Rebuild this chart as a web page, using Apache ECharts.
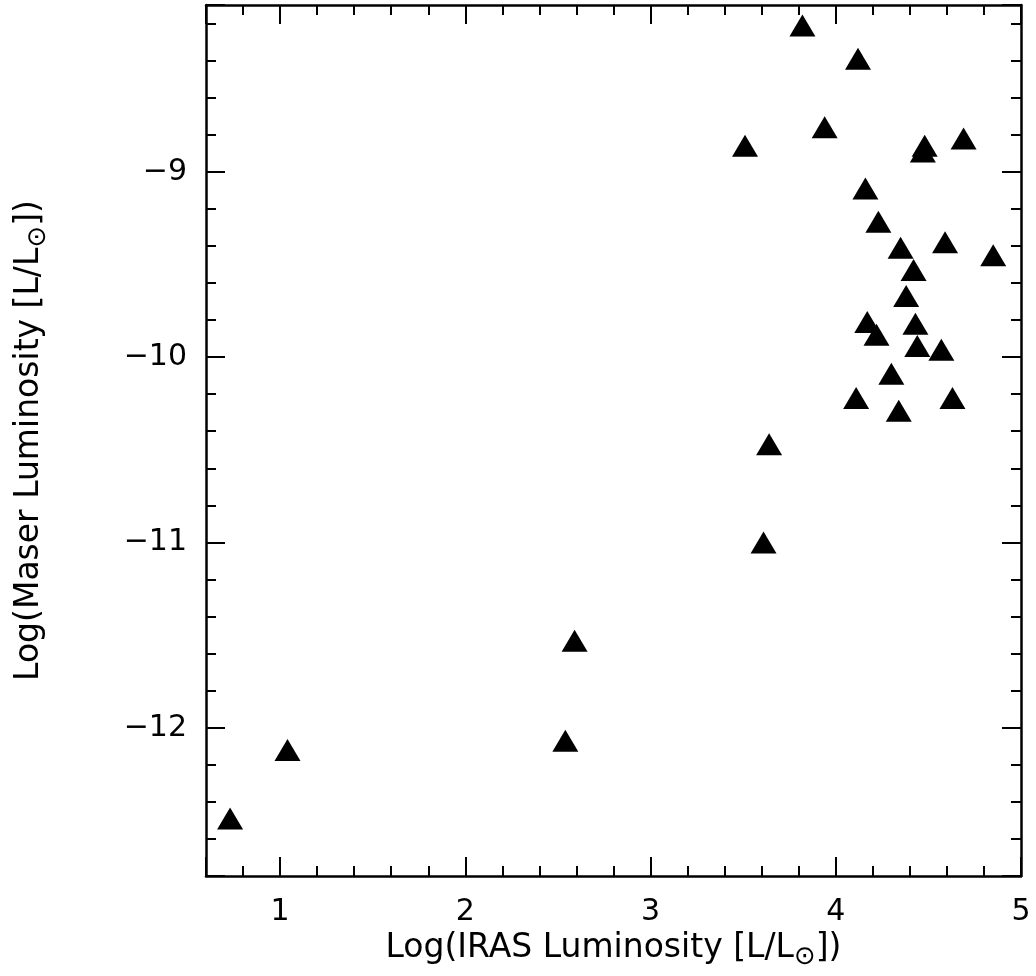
<!DOCTYPE html>
<html>
<head>
<meta charset="utf-8">
<script src="https://cdn.jsdelivr.net/npm/echarts@6/dist/echarts.min.js"></script>
<style>html,body{margin:0;padding:0;background:#fff}#c{width:1036px;height:976px}</style>
</head>
<body>
<div id="c"></div>
<script>
// Data
var iraslum = [3.82, 4.12, 3.94, 3.51, 4.48, 4.47, 4.69, 4.16, 4.23, 4.35, 4.59, 4.85, 4.42, 4.38, 4.17, 4.22, 4.43, 4.44, 4.57, 4.30, 4.11, 4.34, 4.63, 3.64, 3.61, 2.59, 2.54, 1.04, 0.73];
var maserlum = [-8.21, -8.39, -8.76, -8.86, -8.86, -8.89, -8.82, -9.09, -9.27, -9.41, -9.38, -9.45, -9.53, -9.67, -9.81, -9.88, -9.82, -9.94, -9.96, -10.09, -10.22, -10.29, -10.22, -10.47, -11.00, -11.53, -12.07, -12.12, -12.49];
var xTickLabels = [1, 2, 3, 4, 5];
var yTickLabels = [-12, -11, -10, -9];
var xRange = [0.6, 5];
var yRange = [-12.8, -8.1];
var xTitle = ['Log(IRAS Luminosity [L/L', '\u2299', '])'];
var yTitle = ['Log(Maser Luminosity [L/L', '\u2299', '])'];

var points = iraslum.map(function (x, i) { return [x, maserlum[i]]; });

var FONT = 'DejaVu Sans';
var richName = {
  n: { fontSize: 33, fontFamily: FONT, color: '#000', lineHeight: 36, verticalAlign: 'top' },
  s: { fontSize: 26, fontFamily: FONT, color: '#000', lineHeight: 30, padding: [12, 0, 0, 0], verticalAlign: 'top' }
};
function titleOf(parts) { return '{n|' + parts[0] + '}{s|' + parts[1] + '}{n|' + parts[2] + '}'; }
function fmtNum(v) {
  var r = Math.round(v * 1000) / 1000;
  return r < 0 ? '\u2212' + Math.abs(r) : String(r);
}
function inList(list) {
  return function (v) {
    for (var i = 0; i < list.length; i++) { if (Math.abs(list[i] - v) < 1e-6) return fmtNum(list[i]); }
    return '';
  };
}
var axisLineS = { color: '#000', width: 2.5 };
var tickS = { color: '#000', width: 2 };
function axisCommon(range, list, showLabel, pos) {
  return {
    type: 'value', position: pos, min: range[0], max: range[1], splitNumber: 5, scale: true,
    axisLine: { show: true, onZero: false, lineStyle: axisLineS },
    axisTick: { show: true, inside: true, length: 19, lineStyle: tickS },
    minorTick: { show: true, splitNumber: 5, length: 10, lineStyle: tickS },
    splitLine: { show: false },
    axisLabel: { show: showLabel, color: '#000', fontSize: 30, fontFamily: FONT, formatter: inList(list), showMinLabel: true, showMaxLabel: true }
  };
}
var xb = axisCommon(xRange, xTickLabels, true, 'bottom');
xb.axisLabel.margin = 21;
xb.name = titleOf(xTitle);
xb.nameLocation = 'middle';
xb.nameGap = 56;
xb.nameTextStyle = { rich: richName };
var xt = axisCommon(xRange, xTickLabels, false, 'top');
var yl = axisCommon(yRange, yTickLabels, true, 'left');
yl.axisLabel.margin = 19;
yl.name = titleOf(yTitle);
yl.nameLocation = 'middle';
yl.nameGap = 157;
yl.nameTextStyle = { rich: richName };
var yr = axisCommon(yRange, yTickLabels, false, 'right');

var chart = echarts.init(document.getElementById('c'), null, { renderer: 'canvas' });
chart.setOption({
  animation: false,
  backgroundColor: '#fff',
  grid: { left: 206, right: 15, top: 5, bottom: 100, containLabel: false },
  xAxis: [xb, xt],
  yAxis: [yl, yr],
  series: [{
    type: 'scatter', xAxisIndex: 0, yAxisIndex: 0,
    symbol: 'triangle', symbolSize: [26, 22],
    itemStyle: { color: '#000', opacity: 1 },
    emphasis: { disabled: true },
    data: points
  }]
});
</script>
</body>
</html>
